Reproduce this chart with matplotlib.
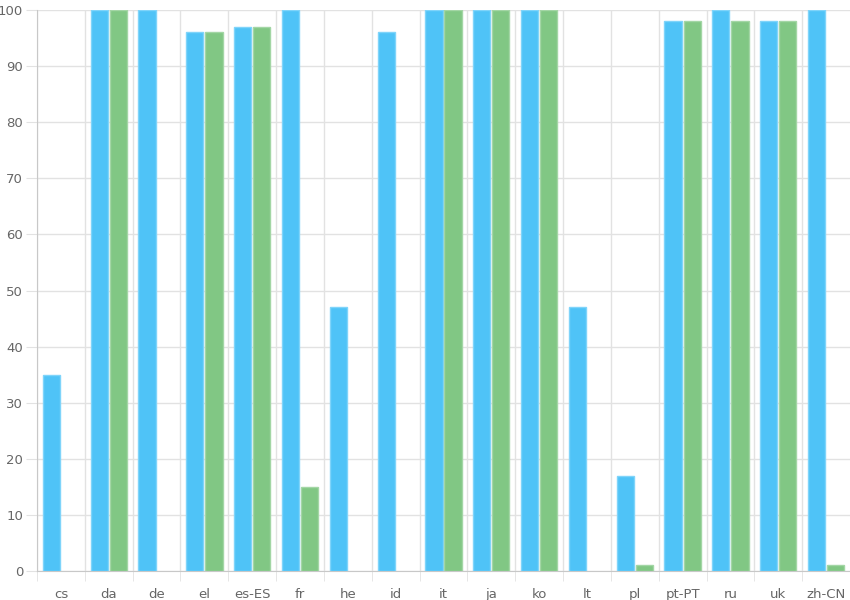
import matplotlib.pyplot as plt
import numpy as np

languages = ["cs", "da", "de", "el", "es-ES", "fr", "he", "id", "it", "ja",
             "ko", "lt", "pl", "pt-PT", "ru", "uk", "zh-CN"]
blue_values = [35, 100, 100, 96, 97, 100, 47, 96, 100, 100, 100, 47, 17, 98, 100, 98, 100]
green_values = [0, 100, 0, 96, 97, 15, 0, 0, 100, 100, 100, 0, 1, 98, 98, 98, 1]

BLUE = "#4fc3f7"
GREEN = "#81c784"
GRID = "#e2e2e2"
TEXT = "#666666"

fig = plt.figure(figsize=(8.5, 6), dpi=100)
ax = fig.add_axes([37 / 850, 29 / 600, 1 - 37 / 850, 561 / 600])

x = np.arange(len(languages))
w = 0.36


def edge_widths(values):
    # no outline on empty bars
    return [1 if v > 0 else 0 for v in values]


ax.bar(x - 0.2, blue_values, w, color=BLUE, edgecolor="#7fd4fa",
       linewidth=edge_widths(blue_values), zorder=3)
ax.bar(x + 0.2, green_values, w, color=GREEN, edgecolor="#a3d6a5",
       linewidth=edge_widths(green_values), zorder=3)

ax.set_xlim(-0.5, len(languages) - 0.5)
ax.set_ylim(0, 100)

ax.set_yticks(np.arange(0, 101, 10))
ax.set_xticks(x)
ax.set_xticklabels(languages)
ax.set_xticks(np.arange(-0.5, len(languages) - 1, 1), minor=True)

ax.grid(axis="y", which="major", color=GRID, linewidth=1, zorder=0)
ax.grid(axis="x", which="minor", color=GRID, linewidth=1, zorder=0)

ax.tick_params(axis="x", which="major", length=0, pad=12, labelsize=9.5, labelcolor=TEXT)
ax.tick_params(axis="x", which="minor", length=7, color=GRID)
ax.tick_params(axis="y", length=8, color=GRID, labelsize=9.5, labelcolor=TEXT, pad=2)

for side in ("top", "right"):
    ax.spines[side].set_visible(False)
for side in ("left", "bottom"):
    ax.spines[side].set_color("#c8c8c8")

fig.savefig("out.png", dpi=100)
